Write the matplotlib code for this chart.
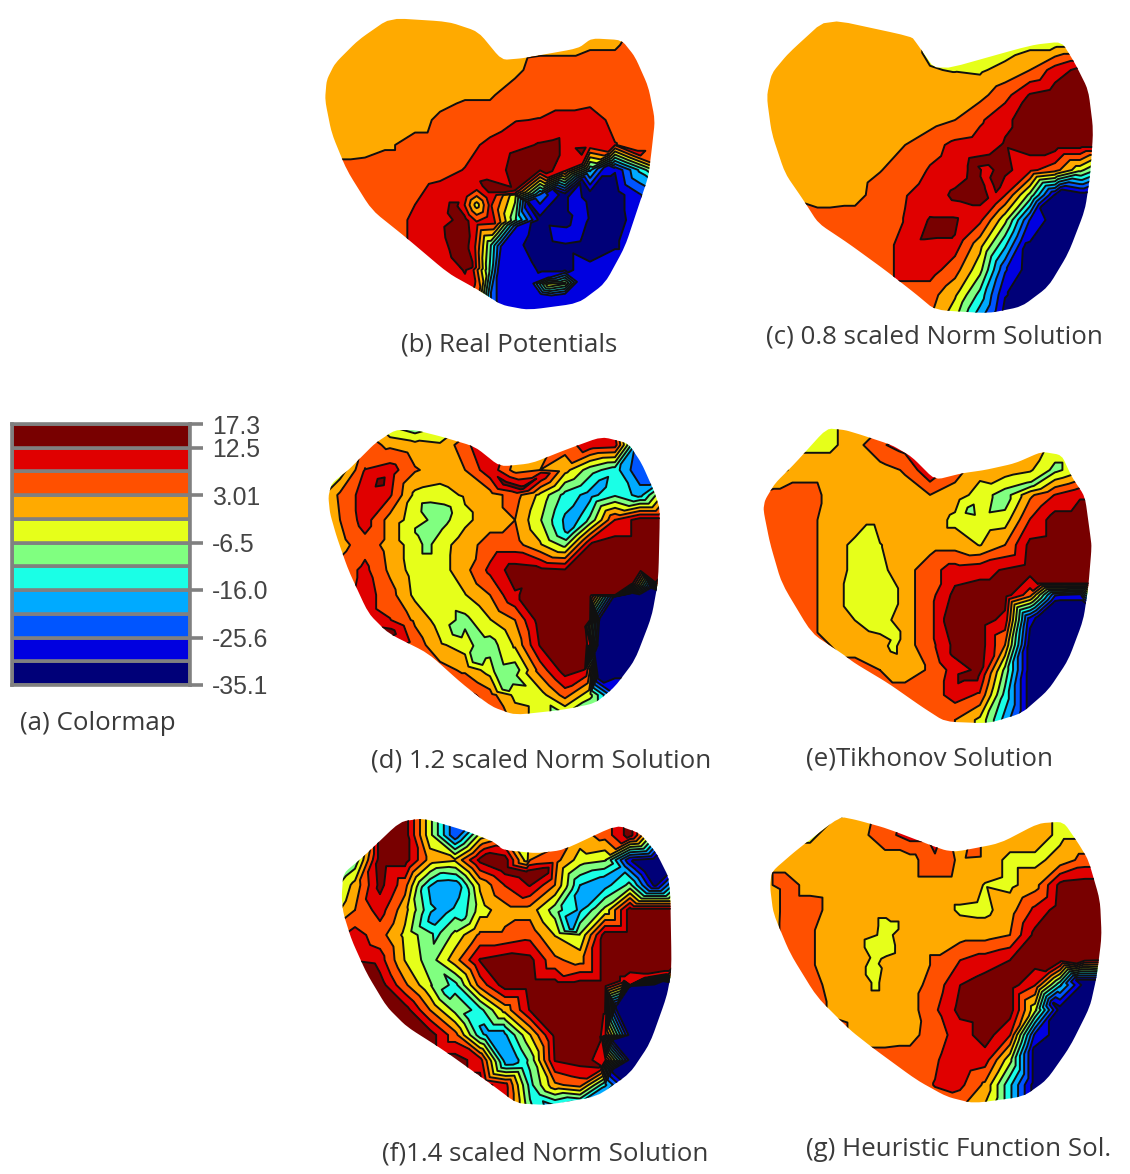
import numpy as np
import matplotlib
matplotlib.use("Agg")
import matplotlib.pyplot as plt
from matplotlib.patches import Polygon
from matplotlib.colors import ListedColormap, BoundaryNorm
import matplotlib.tri as mtri

W, H = 1130, 1174
LEVELS = list(np.linspace(-35.1, 17.3, 12))
BAND_COLORS = ['#000078', '#0000e0', '#0055ff', '#00aaff', '#1affe6', '#80ff80',
               '#e6ff1a', '#ffaa00', '#ff5000', '#e00000', '#780000']
TICK_VALUES = [17.3, 12.5, 3.01, -6.5, -16.0, -25.6, -35.1]
TICK_LABELS = ['17.3', '12.5', '3.01', '-6.5', '-16.0', '-25.6', '-35.1']

XS = list(range(0, 1051, 75))
YS = list(range(0, 901, 75))

B_GRID = [
 [1,1,1,1,1,1,1,1,1,1,1,1,1,5,5],
 [1,1,1,1,1,1,1,1,1,1.5,1.5,2.5,2.5,5,5],
 [1,1,1,1,1,1,1,1,2,5,5,5,5,5,5],
 [1,1,1,1,1,1,2.5,2.5,5,5,5,5,5,5,5],
 [1,1,1,1,1,4,5,5,7.5,8,9.5,10.7,6,5,5],
 [1,1,1,2.5,5,5,6,9,11,13,10,11,8,5,5],
 [1,4.5,5,5,5,6,8,10,14,13,10,-15,-30,-15,0],
 [1,5,5,5,7,10,10,12,-5,-22,-33,-33,-33,-26,-20],
 [1,5,5,5,9,11,14,11,-10,-32,-33,-31,-33,-27,-20],
 [1,5,5,5,9,10,15,-10,-29,-33,-31,-33,-31,-27,-27],
 [5,5,5,5,5,8,13,-12,-26,-31,-31,-29,-27,-27,-27],
 [5,5,5,5,5,5,10,-20,-28,-28,-28,-28,-28,-28,-28],
 [5,5,5,5,5,5,10,-20,-28,-28,-28,-28,-28,-28,-28],
]
B_EXTRA = [(485,555,-4),(445,555,9),(525,555,9),(485,505,9),(485,610,9),
           (800,570,-27),(770,540,-27),(760,650,-27),(780,630,-28),
           (700,795,-3),(750,790,-5),(650,790,-28),(790,785,-28),(700,770,-28),(710,830,-28),
           (965,400,9),(800,390,14),
           (400,640,14),(420,560,14),(420,700,14),(470,740,14),(450,690,15),
           (510,495,14),(610,410,14),(725,380,14),(690,455,14),(600,510,13),
           (600,520,10),(700,470,10),(800,430,10),(880,395,8),
           (640,550,-31),(720,510,-31),(800,480,-31),(880,440,-29),
           (480,680,8),(540,610,8),(470,750,10),(490,810,6),
           (560,680,-27),(610,620,-28),(550,760,-27),(550,830,-27)]
B_EDGE = [(35,180),(60,130),(130,60),(225,-6),(400,5),(490,35),(560,120),(620,115),(650,110),
          (790,85),(830,55),(920,60),(960,110),(1000,200),(1020,300),(1010,390),(1000,470),
          (970,560),(930,680),(870,790),(790,850),(640,870),(560,855),(490,810),(400,760),
          (270,650),(170,570),(95,450),(50,340),(30,240)]

C_GRID = [
 [1,1,1,1,1,1,1,1,1,1,1,1,1,1,1],
 [1,1,1,1,1,1,1,-3,-3,-3,-5,-3,-3,-3,-3],
 [1,1,1,1,1,1,1,-1.5,-2,-2.5,0,3,10,14,15],
 [1,1,1,1,1,1,1,1,1,1.5,6,13,15,15,15],
 [1,1,1,1,1,1,1,1,3,7,11.5,15,15,15,15],
 [1,1,1,1,1,1,3,6,9,10,13,15,15,15,15],
 [1,1,1,1,1,2.8,5,8.2,10,15,14,9,5,-5,-15],
 [1,1,2,1,1.5,5,7.5,10,13.5,15,8,-8,-31,-33,-33],
 [5,5,5,5,5,5,8,13,13,9,-5,-26,-33,-33,-33],
 [5,5,5,5,5,5,10,10,10,0,-15,-31,-33,-33,-33],
 [5,5,5,5,5,5,10,10,5,-5,-25,-33,-33,-33,-33],
 [5,5,5,5,5,5,5,5,-1,-13,-30,-33,-33,-33,-33],
 [5,5,5,5,5,5,5,3,-6,-20,-33,-33,-33,-33,-33],
]
C_EXTRA = [(680,450,11),(700,495,11),(715,540,11),(670,500,15),(730,495,14),(660,430,14),(720,420,14),
           (505,655,13),(550,650,13),(590,650,13),(575,565,11),(640,575,11),(525,560,11),
           (860,560,-31),(920,510,-31),(990,520,-31),(810,680,-31)]
C_EDGE = [(35,230),(50,160),(100,100),(215,-5),(470,50),(485,70),(545,155),(830,75),(920,65),
          (960,130),(1000,210),(1015,330),(1005,470),(990,570),(940,700),(880,800),(800,860),
          (700,880),(540,870),(480,820),(390,750),(280,670),(190,610),(145,540),(90,460),(50,340)]

D_GRID = [
 [1,1,1,-10,-14,-10,1,1,1,1,5,5,5,-23,-23],
 [-9,-9,5,2,0,-1,6,14,1,1,5,11,10,-23,-23],
 [-9,-5,8,10,3.5,1,3,11,1,3,0,-9,-14,-25,-25],
 [-5,4,10,8.5,-3,-4,-1,1,5,-3,-13,-18,-12,-18,0],
 [-1,3,10,1,-4,-9,-3,1,3,-6,-17,-10,8,15,15],
 [1,1,6,1,-4,-4,1,5,5,-1,-8,13,15,15,15],
 [5,5,9,2,-4,-4,1.5,9,15,14,13,15,15,15,15],
 [5,5,10,5,-3,-4,-2,3,12,15,15,15,13,-33,-33],
 [5,10,10,8,2,-4,-8,-2,3,15,15,13,-33,-33,-33],
 [10,10,10,10,6,-1,-4,-9,-1,13,15,10,-33,-33,-33],
 [10,10,10,10,10,5,2,-4,-9,5,15,3,-33,-33,-33],
 [10,10,10,10,10,10,10,5,-3,-4,5,-5,-25,-33,-33],
 [10,10,10,10,10,10,10,10,1,-4,-10,-15,-25,-33,-33],
]
D_EXTRA = [(200,185,14),(570,190,14),(620,205,14),(680,165,12),(230,635,14),
           (330,260,-8),(395,270,-8),(385,300,-8),(335,372,-8),(315,330,-8),
           (430,630,-9),(450,600,-9),(590,770,-9),(570,805,-9),(500,680,-9),(550,760,-9),(480,720,-9),
           (790,280,-18),(760,330,-18),(860,190,-18),
           (880,490,15),(950,490,15),(1020,485,15),(900,530,-33),(950,520,-33),(1010,505,-33),
           (810,620,13),(855,600,-33),(815,675,13),(850,675,-33),(810,745,13),(850,770,-33),(840,700,-33)]
D_EDGE = [(40,230),(50,190),(100,150),(130,120),(180,70),(240,30),(300,30),(380,50),(480,80),
          (555,140),(650,130),(750,90),(860,50),(940,70),(980,130),(1020,220),(1035,270),
          (1030,480),(1010,590),(960,720),(900,800),(840,850),(740,870),(600,885),(530,860),
          (440,790),(340,700),(220,640),(160,580),(100,450),(65,350),(45,280)]

E_GRID = [
 [-3,-3,-3,-3,1,1,1,1,1,1,1,1,-3,-3,-3],
 [-3,-3,-3,-3,1,7,10,10,1,1,1,1,-3,-3,-3],
 [-3,-3,1,1,1,1,3.5,12,5,0,1,-1,-8,-3,-3],
 [3,5,5,2,1,1,1,3,1,-4,-9,2,8,12,12],
 [5,5,5,1,1,1,1,1,-3,-5,-4,8,15,15,15],
 [5,5,5,1,-3,-2,1,1,1,-2,3,14,15,15,15],
 [5,5,5,1,-3,-3,1,6,10,11,13,15,15,15,15],
 [5,5,5,1,-4,-4,1,6,14,15,15,5,-25,-28,0],
 [5,5,5,1,-1.8,-4,1,6,14,15,11,-29,-33,-33,-33],
 [5,5,5,3,1,0,1,6,14,15,3,-33,-33,-33,-33],
 [5,5,5,5,5,3,1,3.5,10,14,-8,-33,-33,-33,-33],
 [5,5,5,5,5,5,5,5,10,7,-13,-33,-33,-33,-33],
 [5,5,5,5,5,5,5,5,3,-3,-18,-33,-33,-33,-33],
]
E_EXTRA = [(645,270,-8),(830,195,-8),(675,300,-8),(750,240,-9),
           (350,320,-3),(420,530,-3),(415,680,-3),(430,650,-3),
           (615,770,14),(665,770,14),(590,700,13),(570,600,13),
           (900,545,-31),(985,545,-31),(850,590,-31),(850,490,13),(925,490,13),(1000,490,13)]
E_EDGE = [(30,240),(60,190),(120,130),(215,25),(270,30),(320,45),(410,75),(470,110),(540,180),
          (620,160),(690,150),(780,130),(860,95),(920,105),(950,170),(990,230),(1005,340),
          (1010,380),(1000,500),(985,600),(940,720),(880,810),(800,880),(700,910),(570,905),
          (500,860),(400,790),(300,730),(260,700),(170,640),(80,490),(45,370),(25,270)]

F_GRID = [
 [15,15,15,15,-5,-25,-25,-25,-10,-10,5,5,15,-10,-33],
 [-15,-15,15,15,-5,-25,-5,1,1,1,1,5,15,-10,-33],
 [-18,-10,15,15,1,-1,14,15,3,5,-4,-6,-30,-33,-33],
 [-10,0,14,5,-15,-19,-1,8,13,3,-16,-18,-10,-32,-10],
 [-5,3,10,0,-15,-14,-4,1,1,-9,-17,-5,15,15,15],
 [5,10,5,-3,-10,-5,4,4,6,-2,-6,15,15,15,15],
 [12,12,10,-2,-9,1,13,15,14,4,1,15,15,15,15],
 [15,15,15,4,-6,-13,5,15,15,15,15,15,10,-33,-33],
 [15,15,15,15,3,-8,-13,0,13,15,15,13,-33,-33,-33],
 [15,15,15,15,15,5,-14,-17,-2,14,15,10,-33,-33,-33],
 [15,15,15,15,15,15,10,-18,-10,13,15,10,-33,-33,-33],
 [15,15,15,15,15,15,15,10,-13,2,5,-15,-33,-33,-33],
 [15,15,15,15,15,15,15,10,-10,-20,-25,-33,-33,-33,-33],
]
F_EXTRA = [(700,500,8),(575,270,7),(590,150,-4),(590,190,15),(525,175,15),(650,180,15),(470,140,15),
           (120,470,15),
           (310,230,-19),(380,225,-19),(365,285,-19),(310,325,-19),
           (280,235,-13),(335,195,-13),(410,240,-13),(400,320,-13),(320,365,-13),
           (350,545,-13.5),(420,620,-13.5),(470,670,-18),(520,670,-18),(555,750,-18),(530,760,-18),
           (580,770,-13),(620,860,-14),
           (715,325,-18),(750,245,-18),(880,175,-18),(820,210,-18),(765,285,-18),(725,355,-18),
           (950,180,-33),
           (810,770,13),(850,780,-33),(820,600,13),(860,590,-33),(810,680,13),(850,690,-33),
           (880,510,12),(950,500,12),(1010,490,12),(900,530,-33),(1000,515,-33)]
F_EDGE = [(35,260),(40,190),(100,140),(210,35),(280,25),(400,60),(490,95),(520,120),(620,130),
          (700,120),(860,45),(930,70),(980,130),(1020,210),(1025,480),(1010,560),(960,700),
          (900,790),(800,860),(650,885),(560,880),(480,820),(340,720),(230,650),(170,590),
          (110,490),(65,390),(40,310)]

G_GRID = [
 [-3,-3,-3,-3,1,5,5,5,1,1,1,1,-3,-3,-3],
 [-3,-3,-3,1,1.5,6,10,10,1,1,1,1,-3,-3,-3],
 [1,1,1,1,1,1,1,7,2,1,-3,-3,0,5,5],
 [1,5,1.5,1,1,1,1,1,1,-2,-3,1,14,15,15],
 [1,5,5,1,1,1,1,1,-2.5,-3,1,9,15,15,15],
 [1,5,3.5,1,1,-3,1,1,1,1,3,14,15,15,15],
 [5,5,3.5,1,1,-1,1,3.5,7.7,10,12.5,15,15,14,10],
 [5,5,5,1,1,1,1,5,12.5,15,15,8,-15,-33,-33],
 [5,5,5,2,1,1,1,7,14,15,15,-5,-33,-33,-33],
 [5,5,5,5,1,1,1.5,5.5,10,15,8,-27,-33,-33,-33],
 [5,5,5,5,5,5,5,7,12,10,-5,-33,-33,-33,-33],
 [5,5,5,5,5,5,5,8,9,2,-15,-33,-33,-33,-33],
 [5,5,5,5,5,5,5,5,3,-3,-15,-33,-33,-33,-33],
]
G_EXTRA = [(650,130,5),(380,335,-3),(400,350,-3),(385,420,-3),(320,395,-3),(325,480,-3),
           (350,515,-3),(345,440,-3),(45,250,1),(45,310,1),(50,360,2),
           (880,580,-31),(950,510,-31),(1005,510,-31),(820,720,-31),
           (860,480,13),(950,460,13),(1020,450,13)]
G_EDGE = [(30,230),(35,185),(110,120),(240,20),(290,30),(380,55),(550,120),(590,125),(720,100),
          (835,40),(910,35),(955,100),(985,150),(1020,270),(1025,380),(1010,500),(990,590),
          (930,710),(860,810),(790,860),(640,880),(560,860),(470,810),(340,715),(270,660),
          (170,560),(90,430),(40,310)]

PANELS = [(315, 20, B_GRID, B_EXTRA, B_EDGE), (755, 20, C_GRID, C_EXTRA, C_EDGE),
          (315, 420, D_GRID, D_EXTRA, D_EDGE), (755, 420, E_GRID, E_EXTRA, E_EDGE),
          (330, 810, F_GRID, F_EXTRA, F_EDGE), (760, 810, G_GRID, G_EXTRA, G_EDGE)]

CAPTIONS = [('(a) Colormap', 98, 724), ('(b) Real Potentials', 509, 345),
            ('(c) 0.8 scaled Norm Solution', 934, 337), ('(d) 1.2 scaled Norm Solution', 541, 761),
            ('(e)Tikhonov Solution', 930, 759), ('(f)1.4 scaled Norm Solution', 545, 1154),
            ('(g) Heuristic Function Sol.', 959, 1150)]

fig = plt.figure(figsize=(W / 100, H / 100), dpi=100, facecolor='white')
cmap = ListedColormap(BAND_COLORS)
norm = BoundaryNorm(LEVELS, cmap.N)


def axes_px(x0, y0, w, h):
    return fig.add_axes([x0 / W, 1 - (y0 + h) / H, w / W, h / H])


def rounded(edge, passes=2):
    p = np.array(edge, float)
    for _ in range(passes):
        q = np.roll(p, -1, axis=0)
        p = np.column_stack([0.85 * p + 0.15 * q, 0.15 * p + 0.85 * q]).reshape(-1, 2)
    return p


for ox, oy, grid, extra, edge in PANELS:
    ax = axes_px(ox, oy - 20, 350, 340)
    ax.set_xlim(0, 1050)
    ax.set_ylim(960, -60)
    ax.axis('off')
    z = np.array(grid, float)
    z = np.vstack([z[0], z, z[-1]])
    ys = [YS[0] - 75] + YS + [YS[-1] + 75]
    gx, gy = np.meshgrid(XS, ys)
    px = np.r_[gx.ravel(), [e[0] for e in extra]].astype(float)
    py = np.r_[gy.ravel(), [e[1] for e in extra]].astype(float)
    pz = np.r_[z.ravel(), [e[2] for e in extra]]
    tri = mtri.Triangulation(px, py)
    clip = Polygon(rounded(edge), closed=True, transform=ax.transData, fc='none', ec='none')
    ax.add_patch(clip)
    cf = ax.tricontourf(tri, pz, levels=LEVELS, cmap=cmap, norm=norm)
    cf.set_clip_path(clip)
    cl = ax.tricontour(tri, pz, levels=LEVELS[1:-1], colors='#101010', linewidths=1.4,
                       linestyles='solid')
    cl.set_clip_path(clip)

# colour map key
cax = axes_px(12, 424, 178, 261)
cax.set_xlim(0, 1)
cax.set_ylim(LEVELS[0], LEVELS[-1])
for i, c in enumerate(BAND_COLORS):
    cax.bar(0.5, LEVELS[i + 1] - LEVELS[i], width=1, bottom=LEVELS[i], color=c,
            edgecolor='#808080', linewidth=2.6)
for s in ('top', 'bottom', 'left', 'right'):
    cax.spines[s].set_color('#808080')
    cax.spines[s].set_linewidth(2.6)
cax.set_xticks([])
cax.yaxis.tick_right()
cax.set_yticks(TICK_VALUES)
cax.set_yticklabels(TICK_LABELS, fontsize=17.8, family='Liberation Sans', color='#444444')
cax.tick_params(axis='y', length=9, width=2.6, color='#808080', pad=7)

for txt, x, y in CAPTIONS:
    fig.text(x / W, 1 - y / H, txt, ha='center', va='center', fontsize=18.6,
             family='Open Sans', color='#3a3a3a')

fig.savefig('out.png', dpi=100)
